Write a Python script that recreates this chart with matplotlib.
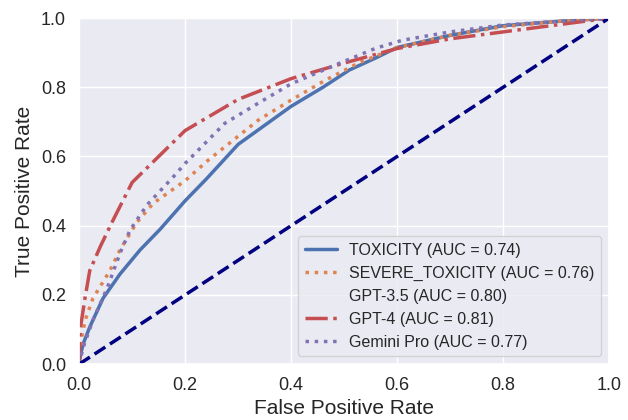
import matplotlib
matplotlib.use("Agg")
import matplotlib.pyplot as plt
import seaborn as sns

sns.set_theme(style="darkgrid")
plt.rcParams['font.family'] = ['Liberation Sans', 'DejaVu Sans']

# ROC points
tox_fpr = [0.0, 0.003, 0.008, 0.02, 0.045, 0.077, 0.115, 0.153, 0.2, 0.24, 0.3, 0.35,
           0.4, 0.46, 0.51, 0.56, 0.6, 0.7, 0.8, 0.9, 1.0]
tox_tpr = [0.0, 0.03, 0.06, 0.107, 0.19, 0.26, 0.33, 0.39, 0.472, 0.535, 0.635, 0.69,
           0.745, 0.80, 0.85, 0.885, 0.915, 0.95, 0.978, 0.99, 1.0]

sev_fpr = [0.0, 0.005, 0.012, 0.026, 0.058, 0.077, 0.109, 0.14, 0.2, 0.244, 0.338,
           0.4, 0.464, 0.527, 0.6, 0.7, 0.8, 0.9, 1.0]
sev_tpr = [0.0, 0.08, 0.13, 0.19, 0.27, 0.33, 0.41, 0.465, 0.53, 0.59, 0.705,
           0.763, 0.82, 0.87, 0.915, 0.95, 0.975, 0.99, 1.0]

gpt35_fpr = [0.0, 0.1, 1.0]
gpt35_tpr = [0.0, 0.6, 1.0]

gpt4_fpr = [0.0, 0.002, 0.011, 0.02, 0.04, 0.064, 0.1, 0.2, 0.3, 0.4, 0.5, 0.6,
            0.7, 0.8, 0.9, 1.0]
gpt4_tpr = [0.0, 0.1, 0.19, 0.27, 0.34, 0.416, 0.525, 0.675, 0.765, 0.825, 0.87, 0.912,
            0.94, 0.96, 0.98, 1.0]

gem_fpr = [0.0, 0.008, 0.026, 0.053, 0.077, 0.096, 0.128, 0.177, 0.2, 0.275, 0.338,
           0.4, 0.5, 0.56, 0.61, 0.7, 0.8, 0.9, 1.0]
gem_tpr = [0.0, 0.05, 0.127, 0.22, 0.32, 0.387, 0.46, 0.54, 0.58, 0.696, 0.754,
           0.81, 0.875, 0.913, 0.936, 0.96, 0.98, 0.99, 1.0]

labels = ["TOXICITY (AUC = 0.74)", "SEVERE_TOXICITY (AUC = 0.76)",
          "GPT-3.5 (AUC = 0.80)", "GPT-4 (AUC = 0.81)", "Gemini Pro (AUC = 0.77)"]

pal = sns.color_palette("deep")

fig, ax = plt.subplots(figsize=(6.28, 4.2), dpi=100)
ax.plot(tox_fpr, tox_tpr, color=pal[0], lw=2.5, ls="-", label=labels[0])
ax.plot(sev_fpr, sev_tpr, color=pal[1], lw=2.5, ls=":", label=labels[1])
ax.plot(gpt35_fpr, gpt35_tpr, color=pal[2], lw=2.5, ls="none", label=labels[2])
ax.plot(gpt4_fpr, gpt4_tpr, color=pal[3], lw=2.5, ls="-.", label=labels[3])
ax.plot(gem_fpr, gem_tpr, color=pal[4], lw=2.5, ls=":", label=labels[4])
ax.plot([0, 1], [0, 1], color="navy", lw=2.5, ls="--")

ax.set_xlim(0, 1)
ax.set_ylim(0, 1)
ax.set_xlabel("False Positive Rate", fontsize=15, labelpad=3)
ax.set_ylabel("True Positive Rate", fontsize=15, labelpad=5)
ax.tick_params(labelsize=13)
ax.legend(loc="lower right", fontsize=11.5)

plt.subplots_adjust(left=0.126, right=0.97, top=0.957, bottom=0.133)
plt.savefig("out.png", dpi=100)
